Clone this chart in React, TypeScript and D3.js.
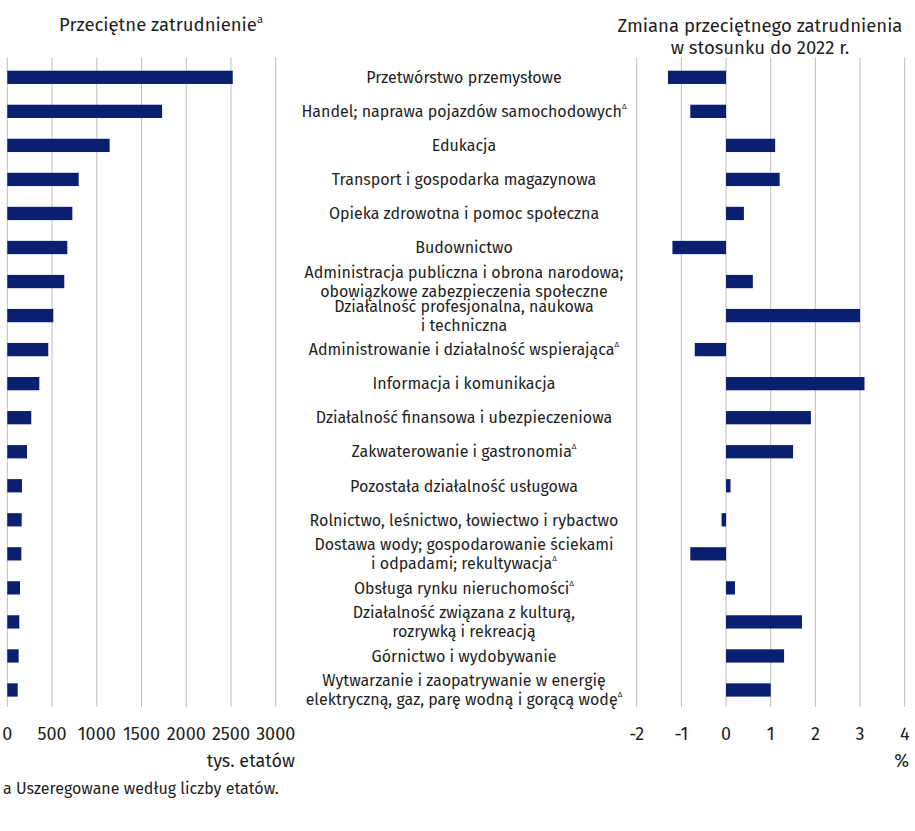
import React from "react";
import * as d3 from "d3";

const categories: string[] = [
  "Przetwórstwo przemysłowe",
  "Handel; naprawa pojazdów samochodowych",
  "Edukacja",
  "Transport i gospodarka magazynowa",
  "Opieka zdrowotna i pomoc społeczna",
  "Budownictwo",
  "Administracja publiczna i obrona narodowa;\nobowiązkowe zabezpieczenia społeczne",
  "Działalność profesjonalna, naukowa\ni techniczna",
  "Administrowanie i działalność wspierająca",
  "Informacja i komunikacja",
  "Działalność finansowa i ubezpieczeniowa",
  "Zakwaterowanie i gastronomia",
  "Pozostała działalność usługowa",
  "Rolnictwo, leśnictwo, łowiectwo i rybactwo",
  "Dostawa wody; gospodarowanie ściekami\ni odpadami; rekultywacja",
  "Obsługa rynku nieruchomości",
  "Działalność związana z kulturą,\nrozrywką i rekreacją",
  "Górnictwo i wydobywanie",
  "Wytwarzanie i zaopatrywanie w energię\nelektryczną, gaz, parę wodną i gorącą wodę",
];

const deltaMarked: boolean[] = [
  false, true, false, false, false, false, false, false, true, false,
  false, true, false, false, true, true, false, false, true,
];

const employment: number[] = [
  2520, 1730, 1144, 798, 727, 671, 637, 514, 458, 358,
  268, 220, 164, 161, 157, 142, 134, 127, 116,
];

const changePct: number[] = [
  -1.3, -0.8, 1.1, 1.2, 0.4, -1.2, 0.6, 3.0, -0.7, 3.1,
  1.9, 1.5, 0.1, -0.1, -0.8, 0.2, 1.7, 1.3, 1.0,
];

const leftTicks: number[] = [0, 500, 1000, 1500, 2000, 2500, 3000];
const rightTicks: number[] = [-2, -1, 0, 1, 2, 3, 4];

const W = 915;
const H = 831;
const FONT = "'Fira Sans', 'Open Sans', sans-serif";
const BAR = "#0b1f70";
const GRID = "#bdbdbd";
const TXT = "#1e1e1e";

export default function App() {
  const top = 60.3;
  const bottom = 707;
  const y = d3
    .scaleBand<number>()
    .domain(d3.range(categories.length))
    .range([top, bottom])
    .paddingInner(0.61)
    .paddingOuter(0.305);

  const xL = d3.scaleLinear().domain([0, 3000]).range([7.3, 275.7]);
  const xR = d3.scaleLinear().domain([-2, 4]).range([636.7, 904.7]);

  const labelX = 464;
  const fs = 16;
  const lineH = 19.5;

  return (
    <svg
      width={W}
      height={H}
      style={{ position: "absolute", left: 0, top: 0, background: "#fff" }}
      fontFamily={FONT}
    >
      {/* Titles */}
      <text x={161} y={31} textAnchor="middle" fontSize={18.5} fill={TXT}>
        Przeciętne zatrudnienie
        <tspan fontSize={11} dy={-8}>a</tspan>
      </text>
      <text x={760} y={32} textAnchor="middle" fontSize={18.5} fill={TXT}>
        Zmiana przeciętnego zatrudnienia
      </text>
      <text x={760} y={53.5} textAnchor="middle" fontSize={18.5} fill={TXT}>
        w stosunku do 2022 r.
      </text>

      {/* Left gridlines */}
      {leftTicks.map((t) => (
        <line key={"lg" + t} x1={xL(t)} x2={xL(t)} y1={top - 3} y2={bottom} stroke={GRID} strokeWidth={1} />
      ))}
      {/* Right gridlines */}
      {rightTicks.map((t) => (
        <line key={"rg" + t} x1={xR(t)} x2={xR(t)} y1={top - 3} y2={bottom} stroke={GRID} strokeWidth={1} />
      ))}

      {/* Left bars */}
      {employment.map((v, i) => (
        <rect key={"lb" + i} x={xL(0)} y={y(i)!} width={xL(v) - xL(0)} height={y.bandwidth()} fill={BAR} />
      ))}
      {/* Right bars */}
      {changePct.map((v, i) => (
        <rect
          key={"rb" + i}
          x={Math.min(xR(0), xR(v))}
          y={y(i)!}
          width={Math.abs(xR(v) - xR(0))}
          height={y.bandwidth()}
          fill={BAR}
        />
      ))}

      {/* Category labels */}
      {categories.map((c, i) => {
        const lines = c.split("\n");
        const cy = y(i)! + y.bandwidth() / 2;
        const startY = cy - ((lines.length - 1) * lineH) / 2 + 5.75;
        return (
          <text key={"cl" + i} textAnchor="middle" fontSize={fs} fill={TXT}>
            {lines.map((ln, j) => (
              <tspan key={j} x={labelX} y={startY + j * lineH}>
                {ln}
                {deltaMarked[i] && j === lines.length - 1 ? (
                  <tspan fontSize={8} dy={-8}>Δ</tspan>
                ) : null}
              </tspan>
            ))}
          </text>
        );
      })}

      {/* Left tick labels */}
      {leftTicks.map((t) => (
        <text key={"lt" + t} x={xL(t)} y={740} textAnchor="middle" fontSize={18} fill={TXT}>
          {t}
        </text>
      ))}
      <text x={295} y={767} textAnchor="end" fontSize={18} fill={TXT}>
        tys. etatów
      </text>

      {/* Right tick labels */}
      {rightTicks.map((t) => (
        <text key={"rt" + t} x={xR(t)} y={740} textAnchor="middle" fontSize={18} fill={TXT}>
          {t}
        </text>
      ))}
      <text x={909} y={767} textAnchor="end" fontSize={18} fill={TXT}>
        %
      </text>

      {/* Footnote */}
      <text x={3} y={794} fontSize={16} fill={TXT}>
        a Uszeregowane według liczby etatów.
      </text>
    </svg>
  );
}
